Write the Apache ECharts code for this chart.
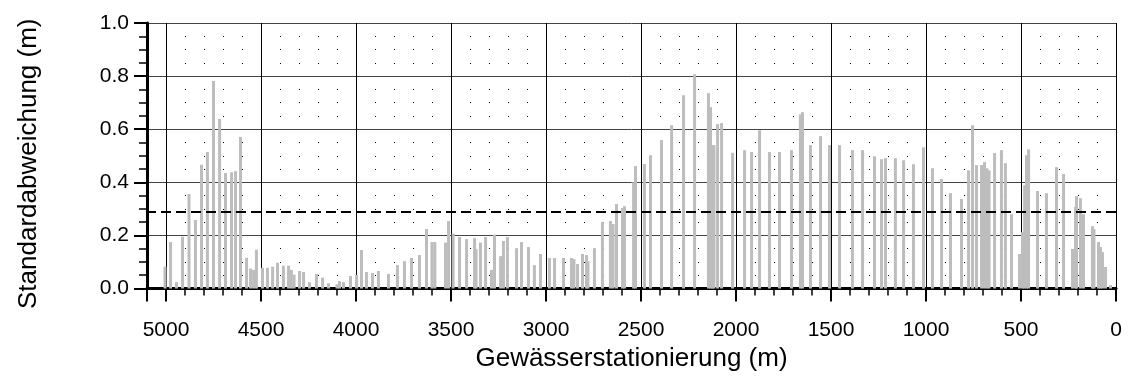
<!doctype html>
<html>
<head>
<meta charset="utf-8">
<script src="https://cdn.jsdelivr.net/npm/echarts@6/dist/echarts.min.js"></script>
</head>
<style>
* { margin: 0px; padding: 0px; }
body { background: #fff; }
#chart { width: 1131px; height: 385px; overflow: hidden; }
</style>
<body>
<div id="chart"></div>
</body>
<script>
// Gewässerstationierung (m) der Balken
var station = [5005, 4976, 4945, 4913, 4879, 4845, 4813, 4782, 4750, 4718, 4687, 4655, 4634, 4608,
	4576, 4555, 4539, 4524, 4492, 4466, 4439, 4413, 4382, 4355, 4340, 4326, 4297, 4276, 4245, 4208,
	4176, 4145, 4100, 4087, 4066, 4029, 3997, 3971, 3945, 3913, 3882, 3829, 3782, 3745, 3708, 3666,
	3629, 3600, 3585, 3529, 3513, 3489, 3455, 3418, 3376, 3368, 3345, 3318, 3287, 3271, 3239, 3224,
	3203, 3155, 3129, 3092, 3061, 3029, 2982, 2955, 2908, 2866, 2853, 2834, 2808, 2787, 2779, 2745,
	2703, 2661, 2647, 2629, 2597, 2587, 2539, 2529, 2482, 2450, 2392, 2339, 2276, 2218, 2145, 2134,
	2124, 2116, 2097, 2076, 2018, 1955, 1918, 1876, 1824, 1771, 1708, 1661, 1650, 1608, 1555, 1508,
	1455, 1387, 1334, 1271, 1234, 1213, 1161, 1118, 1066, 1013, 966, 918, 871, 813, 776, 755,
	734, 708, 692, 679, 668, 639, 603, 582, 550, 508, 492, 481, 471, 460, 413, 366,
	313, 276, 229, 213, 208, 187, 171, 124, 116, 92, 82, 71, 55, 29];
// Standardabweichung (m)
var stdabw = [0.082, 0.175, 0.024, 0.195, 0.356, 0.258, 0.466, 0.514, 0.782, 0.639, 0.435, 0.438, 0.442, 0.571,
	0.116, 0.075, 0.070, 0.146, 0.078, 0.078, 0.082, 0.097, 0.086, 0.086, 0.070, 0.052, 0.066, 0.062, 0.024, 0.055,
	0.041, 0.020, 0.016, 0.028, 0.024, 0.047, 0.051, 0.145, 0.062, 0.058, 0.066, 0.055, 0.088, 0.103, 0.115, 0.126,
	0.224, 0.175, 0.175, 0.173, 0.254, 0.207, 0.194, 0.186, 0.190, 0.149, 0.173, 0.194, 0.070, 0.203, 0.122, 0.179,
	0.194, 0.152, 0.175, 0.156, 0.088, 0.130, 0.115, 0.115, 0.115, 0.115, 0.111, 0.092, 0.130, 0.126, 0.103, 0.152,
	0.250, 0.254, 0.243, 0.318, 0.303, 0.310, 0.400, 0.461, 0.469, 0.502, 0.559, 0.615, 0.728, 0.807, 0.736, 0.683,
	0.540, 0.540, 0.619, 0.623, 0.511, 0.521, 0.514, 0.596, 0.514, 0.514, 0.521, 0.656, 0.664, 0.540, 0.574, 0.540,
	0.540, 0.521, 0.521, 0.498, 0.487, 0.491, 0.491, 0.483, 0.468, 0.532, 0.453, 0.412, 0.359, 0.337, 0.445, 0.615,
	0.465, 0.465, 0.476, 0.453, 0.445, 0.510, 0.521, 0.472, 0.280, 0.130, 0.212, 0.389, 0.502, 0.524, 0.367, 0.359,
	0.457, 0.431, 0.149, 0.307, 0.348, 0.340, 0.280, 0.235, 0.224, 0.175, 0.156, 0.137, 0.081, 0.013];
// Mittelwert (gestrichelte Linie)
var mittel = 0.29;

var fontName = "'Liberation Sans', Arial, sans-serif";

var bars = [];
for (var i = 0; i < station.length; i++) {
	bars.push([station[i], stdabw[i]]);
}

var myChart = echarts.init(document.getElementById('chart'));

var option = {
	animation: false,
	grid: { left: 147, right: 15, top: 23, bottom: 96.5 },
	xAxis: {
		type: 'value',
		inverse: true,
		min: 0,
		max: 5100,
		interval: 500,
		name: 'Gewässerstationierung (m)',
		nameLocation: 'middle',
		nameGap: 48,
		nameTextStyle: { fontFamily: fontName, fontSize: 26, color: '#000' },
		axisLine: { onZero: false, lineStyle: { color: '#000', width: 3 } },
		axisTick: { length: 13, lineStyle: { color: '#000', width: 2 } },
		minorTick: { show: true, splitNumber: 5, length: 7, lineStyle: { color: '#000', width: 1.5 } },
		axisLabel: {
			showMaxLabel: false, margin: 31, fontFamily: fontName, fontSize: 21, color: '#000',
			formatter: function (v) { return String(v); }
		},
		splitLine: { show: true, lineStyle: { color: '#000', width: 1 } }
	},
	yAxis: {
		type: 'value',
		min: 0,
		max: 1,
		interval: 0.2,
		name: 'Standardabweichung (m)',
		nameLocation: 'middle',
		nameGap: 105,
		nameTextStyle: { fontFamily: fontName, fontSize: 26, color: '#000', padding: [0, 16, 0, 0] },
		axisLine: { onZero: false, lineStyle: { color: '#000', width: 3 } },
		axisTick: { length: 13, lineStyle: { color: '#000', width: 2 } },
		minorTick: { show: true, splitNumber: 4, length: 8, lineStyle: { color: '#000', width: 1.5 } },
		axisLabel: {
			margin: 18, fontFamily: fontName, fontSize: 21, color: '#000',
			formatter: function (v) { return v.toFixed(1); }
		},
		splitLine: { show: true, lineStyle: { color: '#444', width: 1 } },
		// Punktraster: 0.05 m x 100 m (19 px)
		minorSplitLine: { show: true, lineStyle: { color: '#000', width: 1, type: [1, 18], dashOffset: 0 } }
	},
	series: [{
		type: 'bar',
		data: bars,
		barWidth: 3,
		silent: true,
		itemStyle: { color: '#bdbdbd' },
		markLine: {
			silent: true,
			symbol: 'none',
			label: { show: false },
			lineStyle: { color: '#000', type: [10, 5], width: 2 },
			data: [{ yAxis: mittel }]
		}
	}]
};

myChart.setOption(option);
</script>
</html>
